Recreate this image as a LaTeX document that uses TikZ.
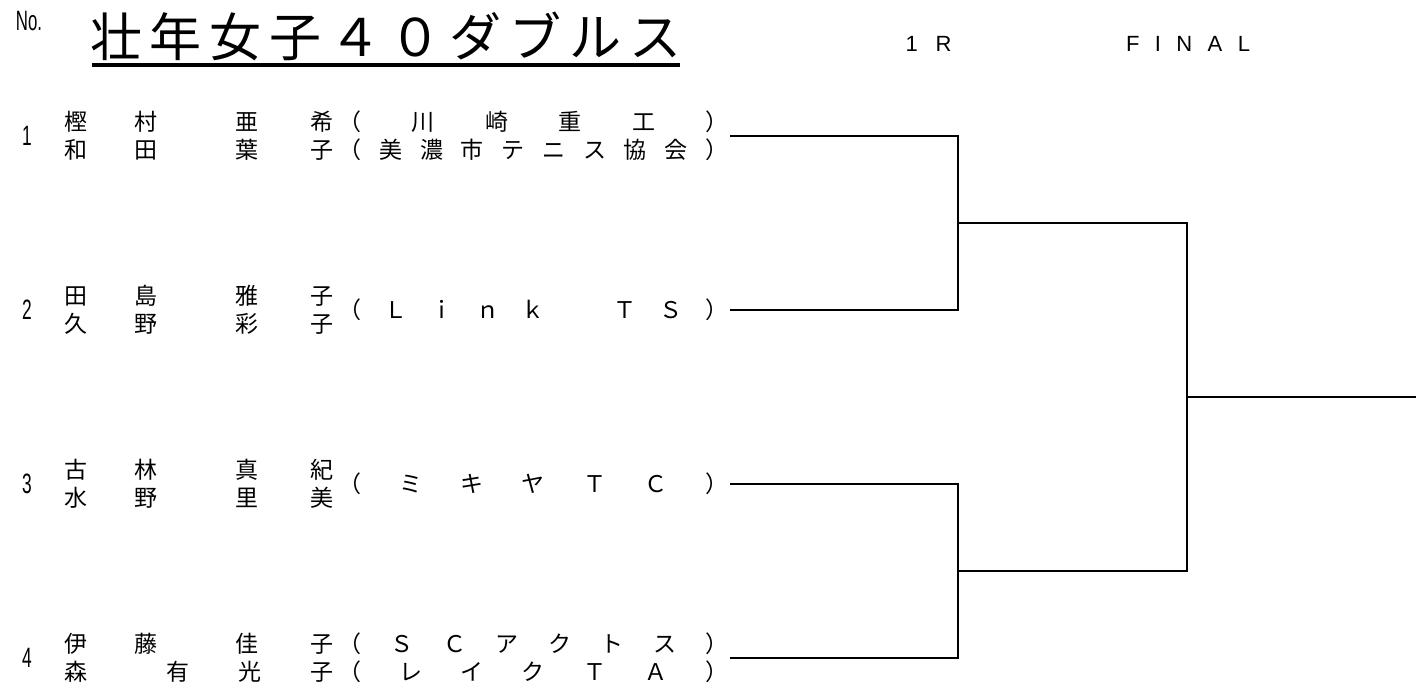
\documentclass[tikz,border=0pt]{standalone}
\usepackage{fontspec}
\newfontfamily\jp{Noto Sans CJK JP}
\newfontfamily\lat{Liberation Sans}
\newcommand\dist[2]{\makebox[#1][s]{#2}}
\newcommand\narrow[1]{\scalebox{0.62}[1]{#1}}
\tikzset{
  nm/.style={inner sep=0pt, outer sep=0pt, font=\jp\fontsize{23}{23}\selectfont},
  ttl/.style={inner sep=0pt, outer sep=0pt, font=\jp\fontsize{52}{52}\selectfont},
  numf/.style={inner sep=0pt, outer sep=0pt, font=\lat\fontsize{28}{28}\selectfont},
  hdr/.style={inner sep=0pt, outer sep=0pt, font=\lat\fontsize{22}{22}\selectfont},
  wire/.style={line width=2.6pt, line join=miter},
  uline/.style={line width=4pt}
}
\begin{document}
\begin{tikzpicture}[x=1pt,y=-1pt]
\useasboundingbox (0,0) rectangle (1424,691);
\fill[white] (0,0) rectangle (1424,691);
% header
\node[numf] (no) at (29,21) {\scalebox{0.6}[1]{No.}};
\node[ttl] (title) at (386,36) {\dist{592pt}{壮\hfill 年\hfill 女\hfill 子\hfill ４\hfill ０\hfill ダ\hfill ブ\hfill ル\hfill ス}};
\coordinate (ula) at (92,65);
\coordinate (ulb) at (680,65);
\draw[uline] (ula) -- (ulb);
\node[hdr] (r1) at (928.5,44) {\dist{46pt}{1\hfill R}};
\node[hdr] (fin) at (1188,44) {\dist{124pt}{F\hfill I\hfill N\hfill A\hfill L}};
% entry numbers
\node[numf] (k1) at (27,136) {\narrow{1}};
\node[numf] (k2) at (27,310) {\narrow{2}};
\node[numf] (k3) at (27,484) {\narrow{3}};
\node[numf] (k4) at (27,658) {\narrow{4}};
% entry 1
\node[nm] (s1a) at (111,122) {\dist{93pt}{樫\hfill 村}};
\node[nm] (g1a) at (284.5,122) {\dist{98pt}{亜\hfill 希}};
\node[nm] (t1a) at (533.5,122) {\dist{390pt}{（\hfill 川\hfill 崎\hfill 重\hfill 工\hfill ）}};
\node[nm] (s1b) at (111,150) {\dist{93pt}{和\hfill 田}};
\node[nm] (g1b) at (284.5,150) {\dist{98pt}{葉\hfill 子}};
\node[nm] (t1b) at (533.5,150) {\dist{390pt}{（\hfill 美\hfill 濃\hfill 市\hfill テ\hfill ニ\hfill ス\hfill 協\hfill 会\hfill ）}};
% entry 2
\node[nm] (s2a) at (111,296) {\dist{93pt}{田\hfill 島}};
\node[nm] (g2a) at (284.5,296) {\dist{98pt}{雅\hfill 子}};
\node[nm] (s2b) at (111,324) {\dist{93pt}{久\hfill 野}};
\node[nm] (g2b) at (284.5,324) {\dist{98pt}{彩\hfill 子}};
\node[nm] (t2) at (533.5,310) {\dist{390pt}{（\hfill Ｌ\hfill ｉ\hfill ｎ\hfill ｋ\hfill 　\hfill Ｔ\hfill Ｓ\hfill ）}};
% entry 3
\node[nm] (s3a) at (111,470) {\dist{93pt}{古\hfill 林}};
\node[nm] (g3a) at (284.5,470) {\dist{98pt}{真\hfill 紀}};
\node[nm] (s3b) at (111,498) {\dist{93pt}{水\hfill 野}};
\node[nm] (g3b) at (284.5,498) {\dist{98pt}{里\hfill 美}};
\node[nm] (t3) at (533.5,484) {\dist{390pt}{（\hfill ミ\hfill キ\hfill ヤ\hfill Ｔ\hfill Ｃ\hfill ）}};
% entry 4
\node[nm] (s4a) at (111,644) {\dist{93pt}{伊\hfill 藤}};
\node[nm] (g4a) at (284.5,644) {\dist{98pt}{佳\hfill 子}};
\node[nm] (t4a) at (533.5,644) {\dist{390pt}{（\hfill Ｓ\hfill Ｃ\hfill ア\hfill ク\hfill ト\hfill ス\hfill ）}};
\node[nm] (s4b) at (76,672) {森};
\node[nm] (g4b) at (250,672) {\dist{167pt}{有\hfill 光\hfill 子}};
\node[nm] (t4b) at (533.5,672) {\dist{390pt}{（\hfill レ\hfill イ\hfill ク\hfill Ｔ\hfill Ａ\hfill ）}};
% bracket
\coordinate (e1) at (730,136);
\coordinate (e2) at (730,310);
\coordinate (e3) at (730,484);
\coordinate (e4) at (730,658);
\coordinate (j1) at (958,223);
\coordinate (j2) at (958,571);
\coordinate (f) at (1187,397);
\coordinate (w) at (1416,397);
\draw[wire] (e1) -| (j1);
\draw[wire] (e2) -| (j1);
\draw[wire] (e3) -| (j2);
\draw[wire] (e4) -| (j2);
\draw[wire] (j1) -| (f);
\draw[wire] (j2) -| (f);
\draw[wire] (f) -- (w);
\end{tikzpicture}
\end{document}
